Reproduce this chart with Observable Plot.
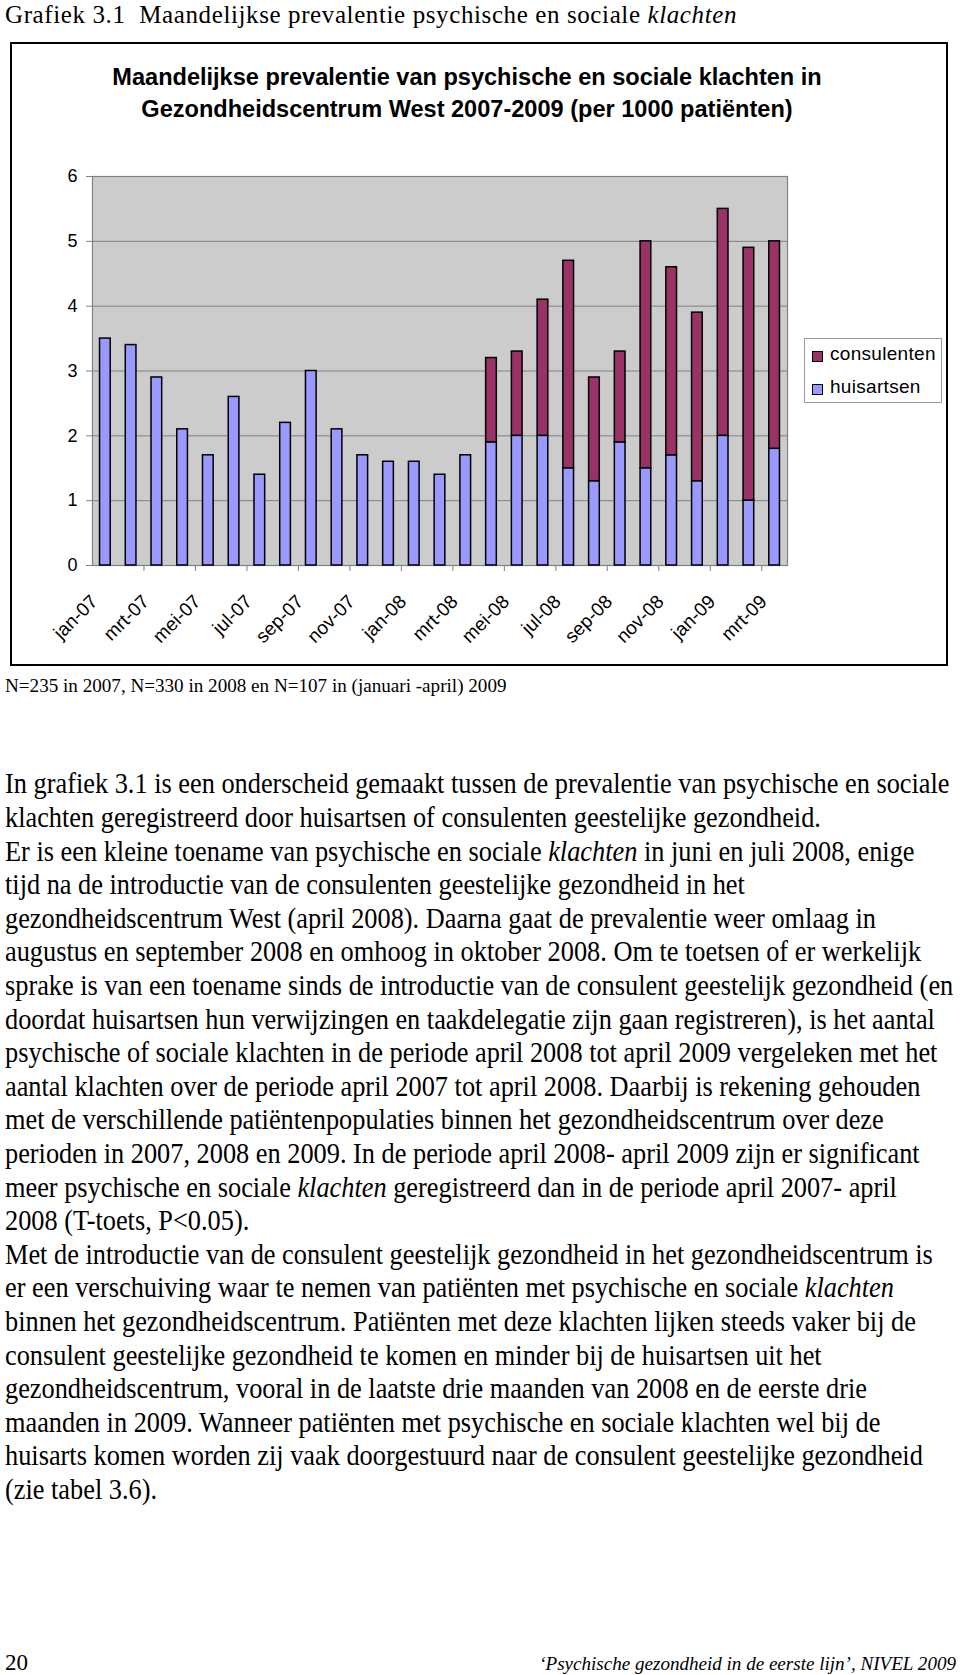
<!DOCTYPE html>
<html><head><meta charset="utf-8">
<script src="https://cdn.jsdelivr.net/npm/d3@7"></script>
<script src="https://cdn.jsdelivr.net/npm/@observablehq/plot@0.6"></script>
<style>
html,body{margin:0;padding:0;background:#fff;}
body{width:960px;height:1675px;position:relative;overflow:hidden;color:#000;}
.t{position:absolute;white-space:nowrap;line-height:1;}
#frame{position:absolute;left:10px;top:42px;width:938px;height:624px;border:2px solid #000;box-sizing:border-box;}
#chart{position:absolute;left:0;top:140px;}
#legend{position:absolute;left:804px;top:338px;width:138px;height:65px;border:1px solid #9a9a9a;background:#fff;box-sizing:border-box;}
.sw{position:absolute;width:11px;height:11px;border:1px solid #000;box-sizing:border-box;}
</style></head><body>
<div id="frame"></div>
<div id="legend"></div>
<script>
// ---- data ----
const months = ["jan-07","feb-07","mrt-07","apr-07","mei-07","jun-07","jul-07","aug-07","sep-07","okt-07","nov-07","dec-07",
                "jan-08","feb-08","mrt-08","apr-08","mei-08","jun-08","jul-08","aug-08","sep-08","okt-08","nov-08","dec-08",
                "jan-09","feb-09","mrt-09"];
const huisartsen  = [3.5,3.4,2.9,2.1,1.7,2.6,1.4,2.2,3.0,2.1,1.7,1.6,1.6,1.4,1.7,1.9,2.0,2.0,1.5,1.3,1.9,1.5,1.7,1.3,2.0,1.0,1.8];
const consulenten = [0,0,0,0,0,0,0,0,0,0,0,0,0,0,0,1.3,1.3,2.1,3.2,1.6,1.4,3.5,2.9,2.6,3.5,3.9,3.2];
const seriesNames = ["huisartsen","consulenten"];
const seriesColors = ["#9999ff","#993366"];
const legendOrder = ["consulenten","huisartsen"];
const yTicks = [0,1,2,3,4,5,6];
const labelMonths = months.filter((m,i)=>i%2===0);
const tickMonths = months.filter((m,i)=>i%2===0 && i>0);

const pageTitle = 'Grafiek 3.1&nbsp;&nbsp;Maandelijkse prevalentie psychische en sociale <i>klachten</i>';
const chartTitle = ["Maandelijkse prevalentie van psychische en sociale klachten in",
                    "Gezondheidscentrum West 2007-2009 (per 1000 patiënten)"];
const footnote = "N=235 in 2007, N=330 in 2008 en N=107 in (januari -april) 2009";
const bodyLines = [
 "In grafiek 3.1 is een onderscheid gemaakt tussen de prevalentie van psychische en sociale",
 "klachten geregistreerd door huisartsen of consulenten geestelijke gezondheid.",
 "Er is een kleine toename van psychische en sociale <i>klachten</i> in juni en juli 2008, enige",
 "tijd na de introductie van de consulenten geestelijke gezondheid in het",
 "gezondheidscentrum West (april 2008). Daarna gaat de prevalentie weer omlaag in",
 "augustus en september 2008 en omhoog in oktober 2008. Om te toetsen of er werkelijk",
 "sprake is van een toename sinds de introductie van de consulent geestelijk gezondheid (en",
 "doordat huisartsen hun verwijzingen en taakdelegatie zijn gaan registreren), is het aantal",
 "psychische of sociale klachten in de periode april 2008 tot april 2009 vergeleken met het",
 "aantal klachten over de periode april 2007 tot april 2008. Daarbij is rekening gehouden",
 "met de verschillende patiëntenpopulaties binnen het gezondheidscentrum over deze",
 "perioden in 2007, 2008 en 2009. In de periode april 2008- april 2009 zijn er significant",
 "meer psychische en sociale <i>klachten</i> geregistreerd dan in de periode april 2007- april",
 "2008 (T-toets, P&lt;0.05).",
 "Met de introductie van de consulent geestelijk gezondheid in het gezondheidscentrum is",
 "er een verschuiving waar te nemen van patiënten met psychische en sociale <i>klachten</i>",
 "binnen het gezondheidscentrum. Patiënten met deze klachten lijken steeds vaker bij de",
 "consulent geestelijke gezondheid te komen en minder bij de huisartsen uit het",
 "gezondheidscentrum, vooral in de laatste drie maanden van 2008 en de eerste drie",
 "maanden in 2009. Wanneer patiënten met psychische en sociale klachten wel bij de",
 "huisarts komen worden zij vaak doorgestuurd naar de consulent geestelijke gezondheid",
 "(zie tabel 3.6)."
];
const pageNumber = "20";
const footerRight = "‘Psychische gezondheid in de eerste lijn’, NIVEL 2009";

// ---- text helpers ----
const SERIF = '"Liberation Serif","Times New Roman",serif';
const SANS = '"Liberation Sans",Arial,sans-serif';
function makeText(html, family, size, extra={}) {
  const el = document.createElement("div");
  el.className = "t";
  el.innerHTML = html;
  el.style.fontFamily = family;
  el.style.fontSize = size + "px";
  if (extra.weight) el.style.fontWeight = extra.weight;
  if (extra.italic) el.style.fontStyle = "italic";
  if (extra.ls) el.style.letterSpacing = extra.ls + "px";
  document.body.appendChild(el);
  return el;
}
function place(el, left, baseline, size, family) {
  const k = family === SERIF ? 0.8375 : 0.8465;
  el.style.left = left + "px";
  el.style.top = (baseline - k*size) + "px";
}
function stretch(el, f) {
  el.style.transformOrigin = "0 0.8375em";
  el.style.transform = "scaleY(" + f + ")";
}
function width(el){ return el.getBoundingClientRect().width; }

// page header: 25px, letter-spacing fitted so it spans x 5..737
{
  const s = 25, el = makeText(pageTitle, SERIF, s);
  const n = el.textContent.length;
  const ls = (732 - width(el)) / n;
  el.style.letterSpacing = ls + "px";
  place(el, 5, 22.5, s, SERIF);
}
// chart title lines (centered around x=467)
{
  let s = 22, el1 = makeText(chartTitle[0], SANS, s, {weight:"bold"});
  s = s * 710 / width(el1);
  const el2 = makeText(chartTitle[1], SANS, s, {weight:"bold"});
  el1.style.fontSize = s + "px";
  [[el1,86],[el2,118]].forEach(([el,b]) => {
    const w = width(el);
    place(el, 467 - w/2, b, s, SANS);
  });
}
// footnote
{
  let s = 19, el = makeText(footnote, SERIF, s);
  s = s * 502 / width(el); el.style.fontSize = s + "px";
  place(el, 5, 692, s, SERIF);
}
// body text
{
  let s = 24;
  const els = bodyLines.map(l => makeText(l, SERIF, s));
  s = s * 945 / width(els[0]);
  els.forEach((el,i) => { el.style.fontSize = s + "px"; place(el, 5, 794.5 + i*33.6, s, SERIF); stretch(el, 1.1); });
}
// footer
{
  const s1 = 23, el1 = makeText(pageNumber, SERIF, s1);
  place(el1, 5, 1670, s1, SERIF);
  let s2 = 20, el2 = makeText(footerRight, SERIF, s2, {italic:true});
  s2 = s2 * 417 / width(el2); el2.style.fontSize = s2 + "px";
  place(el2, 956 - width(el2), 1670, s2, SERIF);
}
// legend
{
  const lg = document.getElementById("legend");
  legendOrder.forEach((name, i) => {
    const sw = document.createElement("div");
    sw.className = "sw";
    sw.style.left = "7px"; sw.style.top = (12 + i*33) + "px";
    sw.style.background = seriesColors[seriesNames.indexOf(name)];
    lg.appendChild(sw);
    const el = makeText(name, SANS, 19, {ls:0.3});
    place(el, 830, 360 + i*33, 19, SANS);
  });
}

// ---- chart ----
const data = [];
months.forEach((m,i) => {
  data.push({month:m, series:"huisartsen", value:huisartsen[i]});
  if (consulenten[i] > 0) data.push({month:m, series:"consulenten", value:consulenten[i]});
});
const W = 960, H = 520, mL = 92, mR = 173, mT = 36, mB = 95;
const step = (W - mL - mR) / months.length;
const chart = Plot.plot({
  width: W, height: H, marginLeft: mL, marginRight: mR, marginTop: mT, marginBottom: mB,
  style: {fontFamily: SANS, fontSize: "18px", background: "transparent", color: "#000", overflow: "visible"},
  x: {type: "band", domain: months, paddingInner: 0.585, paddingOuter: 0.2925, align: 0.5, round: false, label: null},
  y: {domain: [0, 6], label: null},
  color: {domain: seriesNames, range: seriesColors},
  marks: [
    Plot.frame({fill: "#cccccc", stroke: "#808080", strokeWidth: 1.2}),
    Plot.gridY(yTicks.slice(1, -1), {stroke: "#808080", strokeOpacity: 1, strokeWidth: 1}),
    Plot.barY(data, Plot.stackY({x: "month", y: "value", fill: "series", stroke: "#000", strokeWidth: 1.5})),
    Plot.axisY({ticks: yTicks, tickFormat: "d", tickSize: 6, tickPadding: 9, stroke: "#808080", strokeOpacity: 1, label: null, fontSize: 18}),
    Plot.axisX({ticks: tickMonths, tickSize: 6, tickFormat: () => "", dx: -step/2, stroke: "#808080", strokeOpacity: 1, label: null}),
    Plot.axisX({ticks: labelMonths, tickSize: 0, tickPadding: 33, tickRotate: -45, dx: -11, label: null, fontSize: 19})
  ]
});
chart.id = "chart";
document.body.appendChild(chart);
</script>
</body></html>
